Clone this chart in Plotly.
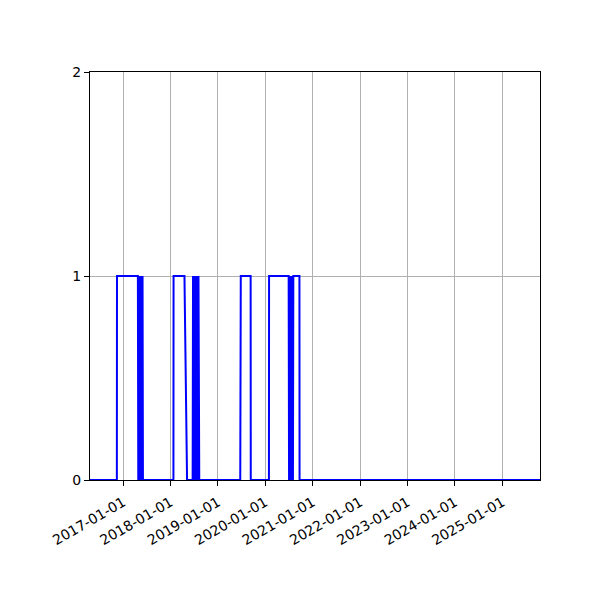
import plotly.graph_objects as go

# fechas y valores (0/1)
fechas = [
    "2016-04-20", "2016-11-13", "2016-11-14", "2017-04-24",
    "2017-04-27", "2017-04-30", "2017-05-03", "2017-05-06", "2017-05-09",
    "2017-05-12", "2017-05-15", "2017-05-18", "2017-05-21", "2017-05-24",
    "2017-05-27", "2017-05-30", "2017-06-02",
    "2018-01-23", "2018-01-24", "2018-04-18", "2018-05-08",
    "2018-06-20", "2018-06-23", "2018-06-26", "2018-06-29", "2018-07-02",
    "2018-07-05", "2018-07-08", "2018-07-11", "2018-07-14", "2018-07-17",
    "2018-07-20", "2018-07-23", "2018-07-26", "2018-07-29", "2018-08-01",
    "2018-08-04", "2018-08-07", "2018-08-10",
    "2019-06-22", "2019-06-26", "2019-09-10", "2019-09-11",
    "2020-01-29", "2020-01-30", "2020-06-29",
    "2020-07-02", "2020-07-05", "2020-07-08", "2020-07-11", "2020-07-14",
    "2020-07-17", "2020-07-20", "2020-07-23", "2020-07-26", "2020-07-29",
    "2020-08-01", "2020-08-04", "2020-08-06",
    "2020-09-20", "2020-09-21", "2025-10-18",
]
valores = [
    0, 0, 1, 1,
    0, 1, 0, 1, 0,
    1, 0, 1, 0, 1,
    0, 1, 0,
    0, 1, 1, 0,
    0, 1, 0, 1, 0,
    1, 0, 1, 0, 1,
    0, 1, 0, 1, 0,
    1, 0, 0,
    0, 1, 1, 0,
    0, 1, 1,
    0, 1, 0, 1, 0,
    1, 0, 1, 0, 1,
    0, 1, 1,
    1, 0, 0,
]

anios = ["2017-01-01", "2018-01-01", "2019-01-01", "2020-01-01", "2021-01-01",
         "2022-01-01", "2023-01-01", "2024-01-01", "2025-01-01"]
y_ticks = [0, 1, 2]

fig = go.Figure()
fig.add_trace(go.Scatter(x=fechas, y=valores, mode="lines",
                         line=dict(color="blue", width=2)))

ejes = dict(showline=True, mirror=True, linecolor="black", linewidth=1,
            ticks="outside", ticklen=5, tickcolor="black",
            showgrid=True, gridcolor="#b0b0b0", gridwidth=1,
            zeroline=False, layer="below traces")

fig.update_layout(
    width=600, height=600,
    margin=dict(l=82, r=68, t=64, b=128),
    plot_bgcolor="white", paper_bgcolor="white",
    showlegend=False,
    font=dict(family="DejaVu Sans", size=14, color="black"),
    xaxis=dict(type="date", range=[fechas[0], fechas[-1]],
               tickvals=anios, ticktext=anios, tickangle=-30,
               ticklabelstandoff=3, **ejes),
    yaxis=dict(range=[0, 2], tickvals=y_ticks, ticktext=[str(v) for v in y_ticks], **ejes),
)

fig.write_html("out.html")
